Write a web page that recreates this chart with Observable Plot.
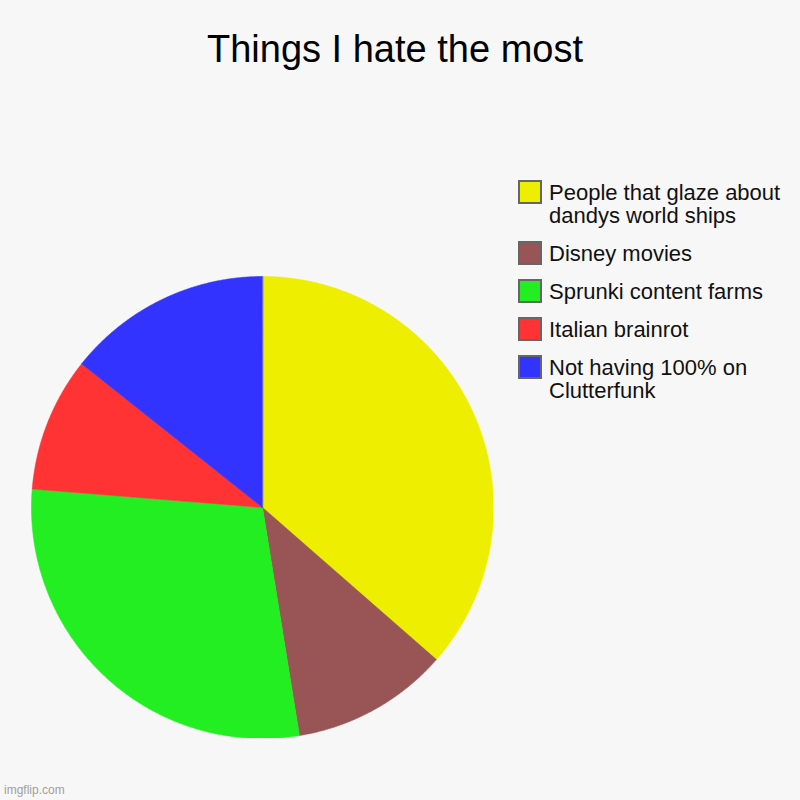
<!DOCTYPE html>
<html>
<head>
<meta charset="utf-8">
<script src="https://cdn.jsdelivr.net/npm/d3@7"></script>
<script src="https://cdn.jsdelivr.net/npm/@observablehq/plot@0.6"></script>
<style>
  html, body { margin: 0; padding: 0; background: #f7f7f7; }
  #root { position: relative; width: 800px; height: 800px; background: #f7f7f7; font-family: "Liberation Sans", Arial, sans-serif; overflow: hidden; }
  #title { position: absolute; left: 0; top: 26px; width: 790px; text-align: center; font-size: 38px; line-height: 46px; color: #000; }
  #pie { position: absolute; left: 31px; top: 276px; }
  #legend { position: absolute; left: 518px; top: 180px; width: 280px; }
  .item { position: relative; margin-bottom: 14px; min-height: 23px; }
  .sw { position: absolute; left: 0; top: 0; width: 24px; height: 24px; box-sizing: border-box; border: 2px solid #666; }
  .lbl { margin-left: 31px; padding-top: 1px; font-size: 22px; line-height: 23px; color: #111; }
  #wm { position: absolute; left: 4px; top: 783px; font-size: 12px; color: #a0a0a0; }
</style>
</head>
<body>
<div id="root">
  <div id="title"></div>
  <div id="pie"></div>
  <div id="legend"></div>
  <div id="wm">imgflip.com</div>
</div>
<script>
const title = "Things I hate the most";
const labels = [
  "People that glaze about dandys world ships",
  "Disney movies",
  "Sprunki content farms",
  "Italian brainrot",
  "Not having 100% on Clutterfunk"
];
const legendLines = [
  ["People that glaze about", "dandys world ships"],
  ["Disney movies"],
  ["Sprunki content farms"],
  ["Italian brainrot"],
  ["Not having 100% on", "Clutterfunk"]
];
const values = [36.4, 11.0, 28.8, 9.4, 14.3];
const colors = ["#eeee00", "#995555", "#22ee22", "#ff3333", "#3333ff"];

document.getElementById("title").textContent = title;

// Pie geometry from data via d3.pie
const arcs = d3.pie().sort(null).value(d => d.value)(labels.map((label, i) => ({label, value: values[i]})));
const pts = [];
for (const a of arcs) {
  const lab = a.data.label;
  pts.push({label: lab, x: 0, y: 0});
  const n = Math.max(2, Math.ceil((a.endAngle - a.startAngle) / 0.005));
  for (let k = 0; k <= n; k++) {
    const t = a.startAngle + (a.endAngle - a.startAngle) * k / n;
    pts.push({label: lab, x: Math.sin(t), y: Math.cos(t)});
  }
}

const size = 462;
const chart = Plot.plot({
  width: size,
  height: size,
  margin: 0,
  x: {domain: [-1, 1], axis: null},
  y: {domain: [-1, 1], axis: null},
  color: {type: "ordinal", domain: labels, range: colors},
  style: {background: "transparent"},
  marks: [
    Plot.line(pts, {x: "x", y: "y", z: "label", fill: "label", stroke: "label", strokeWidth: 0.6, curve: "linear-closed"})
  ]
});
document.getElementById("pie").appendChild(chart);

// Legend
const legend = document.getElementById("legend");
labels.forEach((lab, i) => {
  const item = document.createElement("div");
  item.className = "item";
  const sw = document.createElement("div");
  sw.className = "sw";
  sw.style.background = colors[i];
  const lbl = document.createElement("div");
  lbl.className = "lbl";
  lbl.innerHTML = legendLines[i].map(s => s.replace(/&/g, "&amp;").replace(/</g, "&lt;")).join("<br>");
  item.appendChild(sw);
  item.appendChild(lbl);
  legend.appendChild(item);
});
</script>
</body>
</html>
